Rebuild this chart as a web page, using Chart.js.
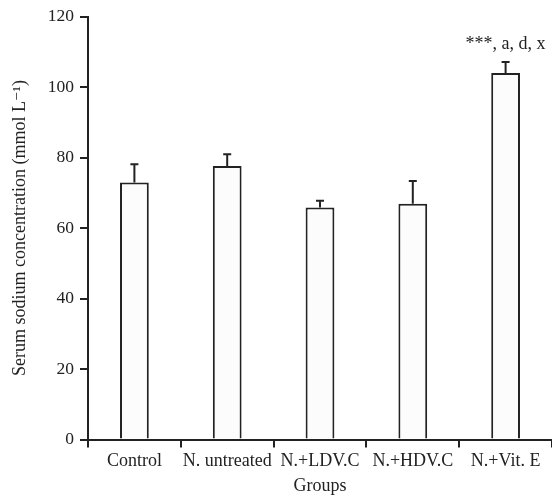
<!DOCTYPE html>
<html>
<head>
<meta charset="utf-8">
<script src="https://cdn.jsdelivr.net/npm/chart.js@4/dist/chart.umd.min.js"></script>
<style>
html,body{margin:0;padding:0;background:#fff;}
#wrap{width:552px;height:497px;position:relative;}
</style>
</head>
<body>
<div id="wrap"><canvas id="c" width="552" height="497"></canvas></div>
<script>
const categories = ["Control", "N. untreated", "N.+LDV.C", "N.+HDV.C", "N.+Vit. E"];
const means = [72.9, 77.6, 65.8, 66.9, 104.0];
const errorTops = [78.1, 80.9, 67.7, 73.3, 107.1];
const annotations = ["", "", "", "", "***, a, d, x"];
const yTicks = [0, 20, 40, 60, 80, 100, 120];

const FONT = "'Liberation Serif', 'DejaVu Serif', serif";
const INK = '#222';

const errorBarPlugin = {
  id: 'errorBars',
  afterDatasetsDraw(chart) {
    const ctx = chart.ctx;
    const meta = chart.getDatasetMeta(0);
    const y = chart.scales.y;
    ctx.save();
    ctx.strokeStyle = INK;
    ctx.lineWidth = 2;
    meta.data.forEach((bar, i) => {
      const x = bar.x;
      const yb = y.getPixelForValue(means[i]);
      const yt = y.getPixelForValue(errorTops[i]);
      ctx.beginPath();
      ctx.moveTo(x, yb);
      ctx.lineTo(x, yt);
      ctx.moveTo(x - 4, yt);
      ctx.lineTo(x + 4, yt);
      ctx.stroke();
      if (annotations[i]) {
        ctx.fillStyle = INK;
        ctx.font = "18px " + FONT;
        ctx.textAlign = 'center';
        ctx.textBaseline = 'middle';
        ctx.fillText(annotations[i], x, yt - 18);
      }
    });
    ctx.restore();
  }
};

new Chart(document.getElementById('c'), {
  type: 'bar',
  data: {
    labels: categories,
    datasets: [{
      data: means,
      backgroundColor: '#fcfcfc',
      borderColor: INK,
      borderWidth: 2,
      barPercentage: 0.31,
      categoryPercentage: 1.0
    }]
  },
  options: {
    responsive: false,
    animation: false,
    devicePixelRatio: 1,
    layout: { padding: { top: 15.5, right: 0, left: 0, bottom: 0 } },
    plugins: { legend: { display: false }, tooltip: { enabled: false } },
    scales: {
      x: {
        offset: true,
        grid: { display: true, drawOnChartArea: false, drawTicks: true, tickLength: 8, color: INK, lineWidth: 2, offset: true },
        border: { display: true, color: INK, width: 2 },
        ticks: { color: INK, font: { family: FONT, size: 18 }, padding: 3, maxRotation: 0, autoSkip: false },
        title: { display: true, text: 'Groups', color: INK, font: { family: FONT, size: 18 }, padding: { top: 0, bottom: 0 } },
        afterFit(scale) { scale.height = 57.5; }
      },
      y: {
        min: 0, max: 120,
        afterBuildTicks(scale) { scale.ticks = yTicks.map(v => ({ value: v })); },
        grid: { display: true, drawOnChartArea: false, drawTicks: true, tickLength: 8, color: INK, lineWidth: 2 },
        border: { display: true, color: INK, width: 2 },
        ticks: { color: INK, font: { family: FONT, size: 17.5 }, padding: 6 },
        title: { display: true, text: 'Serum sodium concentration (mmol L\u207B\u00B9)', color: INK, font: { family: FONT, size: 18 }, padding: { top: 9, bottom: 0 } },
        afterFit(scale) { scale.width = 88; }
      }
    }
  },
  plugins: [errorBarPlugin]
});
</script>
</body>
</html>
